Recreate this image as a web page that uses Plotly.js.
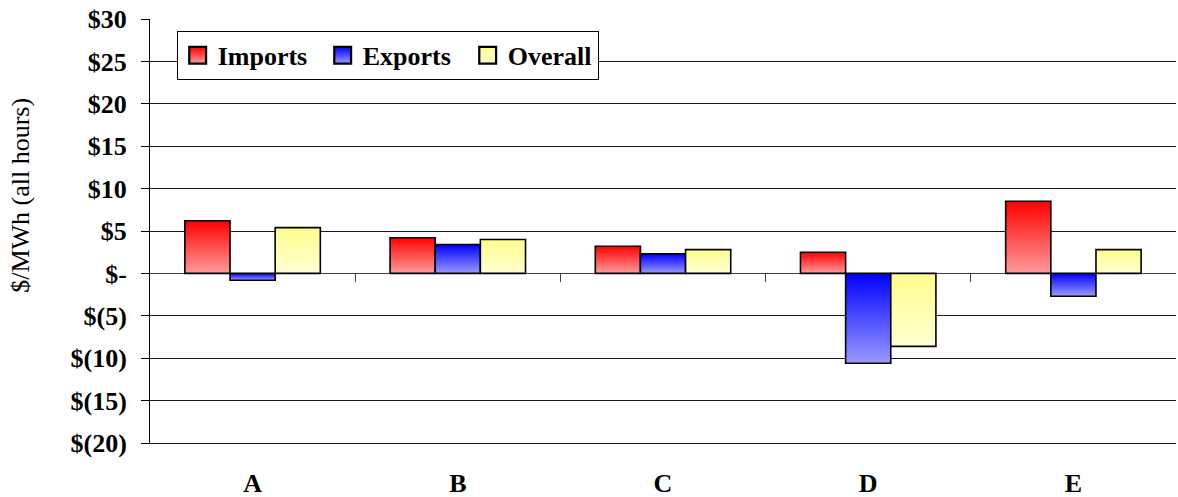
<!DOCTYPE html>
<html>
<head>
<meta charset="utf-8">
<script src="https://cdn.plot.ly/plotly-3.0.1.min.js"></script>
<style>
  html, body { margin: 0; padding: 0; background: #fff; }
  #chart { width: 1178px; height: 497px; }
</style>
</head>
<body>
<div id="chart"></div>
<script>
// Categories and series ($/MWh, all hours)
const categories = ['A', 'B', 'C', 'D', 'E'];
const imports = [6.2, 4.2, 3.2, 2.5, 8.5];
const exports = [-0.8, 3.4, 2.3, -10.6, -2.7];
const overall = [5.4, 4.0, 2.8, -8.6, 2.8];

// Y axis ticks in accounting style
const yTickVals = [30, 25, 20, 15, 10, 5, 0, -5, -10, -15, -20];
const yTickText = ['$30', '$25', '$20', '$15', '$10', '$5', '$-', '$(5)', '$(10)', '$(15)', '$(20)'];
const yRange = [-20, 30];
const yTitle = '$/MWh (all hours)';

const seriesNames = ['Imports', 'Exports', 'Overall'];
// top / bottom colours of the vertical gradient for each series
const gradientStops = {
  Imports: ['#ff0000', '#ff9c9c'],
  Exports: ['#0000ff', '#9a9aff'],
  Overall: ['#ffff8c', '#ffffd2']
};

const serif = 'Liberation Serif, Times New Roman, serif';
const boldFont = { family: serif, size: 26, color: '#000', weight: 'bold' };

function barTrace(name, values) {
  return {
    type: 'bar',
    name: name,
    x: categories,
    y: values,
    marker: {
      color: gradientStops[name][1],
      line: { color: '#000', width: 1.6 }
    },
    hoverinfo: 'skip'
  };
}

// category boundary ticks sit on the zero line
const boundaryTicks = categories.slice(1).map((_, i) => i + 0.5);
const zeroFraction = (0 - yRange[0]) / (yRange[1] - yRange[0]);

const data = [
  barTrace('Imports', imports),
  barTrace('Exports', exports),
  barTrace('Overall', overall),
  { type: 'scatter', x: [], y: [], xaxis: 'x2', showlegend: false, hoverinfo: 'skip' }
];

const layout = {
  width: 1178,
  height: 497,
  margin: { l: 150, r: 2, t: 19, b: 54 },
  paper_bgcolor: '#fff',
  plot_bgcolor: '#fff',
  font: { family: serif, color: '#000' },
  barmode: 'group',
  bargap: 0.34,
  bargroupgap: 0,
  showlegend: true,
  legend: {
    orientation: 'h',
    x: 0.026, xanchor: 'left',
    y: 0.972, yanchor: 'top',
    bgcolor: '#fff',
    bordercolor: '#000',
    borderwidth: 1,
    font: boldFont,
    entrywidth: 100,
    entrywidthmode: 'pixels',
    itemclick: false,
    itemdoubleclick: false
  },
  xaxis: {
    type: 'category',
    range: [-0.5, categories.length - 0.5],
    showgrid: false,
    zeroline: false,
    showline: true,
    linecolor: '#1a1a1a',
    linewidth: 1,
    ticks: '',
    tickfont: boldFont,
    ticklabelstandoff: 17,
    fixedrange: true
  },
  xaxis2: {
    overlaying: 'x',
    anchor: 'free',
    position: zeroFraction,
    range: [-0.5, categories.length - 0.5],
    tickmode: 'array',
    tickvals: boundaryTicks,
    ticks: 'outside',
    ticklen: 8,
    tickwidth: 1,
    tickcolor: '#404040',
    showticklabels: false,
    showgrid: false,
    zeroline: false,
    showline: false,
    fixedrange: true
  },
  yaxis: {
    range: yRange,
    tickmode: 'array',
    tickvals: yTickVals,
    ticktext: yTickText,
    tickfont: boldFont,
    ticks: 'outside',
    ticklen: 8,
    tickwidth: 1,
    tickcolor: '#000',
    ticklabelstandoff: 9,
    showline: true,
    linecolor: '#000',
    linewidth: 1,
    showgrid: true,
    gridcolor: '#1a1a1a',
    gridwidth: 1,
    zeroline: true,
    zerolinecolor: '#404040',
    zerolinewidth: 1,
    fixedrange: true
  },
  annotations: [{
    text: yTitle,
    xref: 'paper', yref: 'paper',
    x: -0.1257, y: 0.583,
    xanchor: 'center', yanchor: 'middle',
    textangle: -90,
    showarrow: false,
    font: { family: serif, size: 26, color: '#000' }
  }]
};

// vertical gradient fills for bars and legend swatches
function applyGradients(gd) {
  const svg = gd.querySelector('svg.main-svg');
  const ns = 'http://www.w3.org/2000/svg';
  let defs = svg.querySelector('defs');
  if (!defs) { defs = document.createElementNS(ns, 'defs'); svg.insertBefore(defs, svg.firstChild); }
  seriesNames.forEach((name) => {
    const g = document.createElementNS(ns, 'linearGradient');
    g.setAttribute('id', 'grad-' + name);
    g.setAttribute('x1', '0'); g.setAttribute('y1', '0');
    g.setAttribute('x2', '0'); g.setAttribute('y2', '1');
    [[0, gradientStops[name][0]], [1, gradientStops[name][1]]].forEach(([off, col]) => {
      const s = document.createElementNS(ns, 'stop');
      s.setAttribute('offset', off);
      s.setAttribute('stop-color', col);
      g.appendChild(s);
    });
    defs.appendChild(g);
  });
  gd.querySelectorAll('.barlayer .trace.bars').forEach((t, i) => {
    const name = seriesNames[i];
    t.querySelectorAll('.point path').forEach(p => { p.style.fill = 'url(#grad-' + name + ')'; });
  });
  const legendTraces = gd.querySelectorAll('.legend .traces');
  legendTraces.forEach((t, i) => {
    const name = seriesNames[i];
    if (!name) return;
    t.querySelectorAll('.legendpoints path').forEach(p => {
      p.style.fill = 'url(#grad-' + name + ')';
      p.style.strokeWidth = '1.6px';
      const tr = p.getAttribute('transform') || '';
      p.setAttribute('transform', tr + ' scale(1.4)');
    });
  });
  // trim the legend frame to its last label
  const bg = gd.querySelector('.legend .bg');
  const texts = gd.querySelectorAll('.legend .legendtext');
  if (bg && texts.length) {
    const last = texts[texts.length - 1].getBoundingClientRect();
    const box = bg.getBoundingClientRect();
    bg.setAttribute('width', Math.round(last.right + 7 - box.left));
  }
}

Plotly.newPlot('chart', data, layout, { staticPlot: true, displayModeBar: false })
  .then(applyGradients);
</script>
</body>
</html>
